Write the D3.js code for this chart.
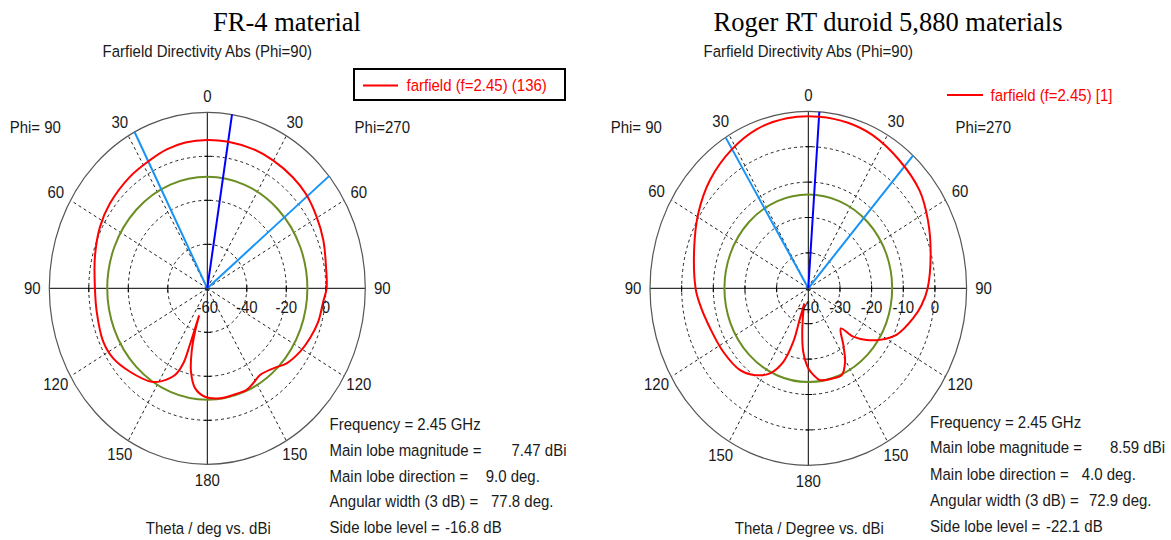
<!DOCTYPE html>
<html>
<head>
<meta charset="utf-8">
<script src="https://cdn.jsdelivr.net/npm/d3@7"></script>
<style>
  body { margin: 0; background: #fff; }
  text { font-family: "Liberation Sans", Arial, sans-serif; font-size: 15px; fill: #1a1a1a; }
  .title { font-family: "Liberation Serif", "Times New Roman", serif; font-size: 26.5px; fill: #000; }
</style>
</head>
<body>
<svg id="chart" width="1171" height="540"></svg>
<script>

var angleLabels = [0, 30, 60, 90, 120, 150, 180];
var spokeAngles = [30, 60, 120, 150];

// FR-4 (left)
var fr4Range = [-60, 20];
var fr4Rings = [-40, -20, 0];
var fr4RadialTicks = [-60, -40, -20, 0];
var fr4Theta = [-161.5, -161.2, -161.0, -160.4, -157.5, -151.3, -146.5, -134.1, -123.8, -114.7, -100.8, -90, -75.8, -62.7, -51.9, -37.6, -26.5, -18, -9.5, 0, 9, 20.1, 29.8, 40.6, 49.4, 59.5, 69.5, 80.7, 90, 95.9, 105.1, 113.6, 121.5, 130.3, 137.4, 145.9, 151.7, 156.7, 164.8, 172.7, 181.4, 187.8, 192.3, 195.4, 197.5, 198.5];
var fr4Gain  = [-47, -41, -33, -23.8, -17.3, -11.9, -9.0, -5.5, -2.7, -2.0, -3.0, -3.1, -1.3, 1.1, 2.6, 4.1, 5.1, 6.4, 7.2, 7.45, 7.47, 7.4, 7.0, 6.5, 5.8, 4.2, 2.7, 0.9, 0.4, -1.0, -1.8, -3.3, -4.9, -7.3, -10.6, -12.4, -11.0, -9.7, -9.8, -9.6, -10.7, -14.2, -21.2, -30.2, -39.3, -47];
var fr4MainDir = 9.0;
var fr4BeamEdges = [-27.4, 50.4];
var fr4SideLobeLevel = -9.33;
var fr4StatLabels = ['Frequency = 2.45 GHz', 'Main lobe magnitude =', 'Main lobe direction =', 'Angular width (3 dB) =', 'Side lobe level ='];
var fr4StatValues = ['', '7.47 dBi', '9.0 deg.', '77.8 deg.', '-16.8 dB'];

// Roger RT duroid 5880 (right)
var rtRange = [-40, 10];
var rtRings = [-30, -20, -10, 0];
var rtRadialTicks = [-40, -30, -20, -10, 0];
var rtTheta = [-163.5, -162.8, -162.6, -159.2, -153.2, -144.7, -137, -123.7, -110, -97.8, -90, -71.9, -58.6, -45.4, -31.5, -20, -8, 4, 15, 25, 38.6, 51.8, 63, 75.6, 90, 97.5, 104.3, 115.3, 122.8, 128.4, 133.9, 137.8, 145.4, 150.8, 156.7, 162.7, 171.9, 176.3, 180, 185.1, 189.5, 196, 196.5];
var rtGain  = [-35.5, -31.1, -24.2, -17.8, -13.1, -10.0, -8.4, -7.7, -7.0, -5.5, -4.4, -2.1, 0.7, 3.6, 6.1, 7.8, 8.5, 8.59, 8.4, 7.8, 6.2, 4.7, 2.4, -0.1, -2.3, -3.9, -5.8, -9.2, -13.1, -16.5, -20.3, -24.7, -20.5, -16.2, -13.3, -13.4, -13.8, -15.5, -17.4, -22, -28.5, -35.1, -35.5];
var rtMainDir = 4.0;
var rtBeamEdges = [-31.5, 41.4];
var rtSideLobeLevel = -13.51;
var rtStatLabels = ['Frequency = 2.45 GHz', 'Main lobe magnitude =', 'Main lobe direction =', 'Angular width (3 dB) =', 'Side lobe level ='];
var rtStatValues = ['', '8.59 dBi', '4.0 deg.', '72.9 deg.', '-22.1 dB'];

// **** Drawing ****

var svg = d3.select('#chart');
svg.append('rect').attr('width', 1171).attr('height', 540).attr('fill', '#fff');

// text slightly stretched vertically like the CST screenshot
function label(g, x, y, s, anchor, fill) {
    return g.append('text')
        .attr('transform', 'translate(' + x + ',' + y + ') scale(1,1.1)')
        .attr('text-anchor', anchor || 'start')
        .style('fill', fill || '#1a1a1a')
        .text(s);
}

function drawPanel(p) {
    var g = svg.append('g');
    var rX = d3.scaleLinear().domain(p.range).range([0, p.rx]);
    var rY = d3.scaleLinear().domain(p.range).range([0, p.ry]);
    var rad = function(a) { return a * Math.PI / 180; };
    var px = function(a, v) { return p.cx + rX(v) * Math.sin(rad(a)); };
    var py = function(a, v) { return p.cy - rY(v) * Math.cos(rad(a)); };
    var top = p.range[1];

    // dashed rings
    g.selectAll('.ring').data(p.rings).join('ellipse')
        .attr('cx', p.cx).attr('cy', p.cy)
        .attr('rx', function(d) { return rX(d); })
        .attr('ry', function(d) { return rY(d); })
        .attr('fill', 'none').attr('stroke', '#222')
        .attr('stroke-width', 1).attr('stroke-dasharray', '3,3');

    // dashed spokes
    var spokes = spokeAngles.concat(spokeAngles.map(function(a) { return -a; }));
    g.selectAll('.spoke').data(spokes).join('line')
        .attr('x1', p.cx).attr('y1', p.cy)
        .attr('x2', function(a) { return px(a, top); })
        .attr('y2', function(a) { return py(a, top); })
        .attr('stroke', '#222').attr('stroke-width', 1).attr('stroke-dasharray', '3,3');

    // solid axes
    g.append('line').attr('x1', px(-90, top)).attr('y1', p.cy).attr('x2', px(90, top)).attr('y2', p.cy)
        .attr('stroke', '#000').attr('stroke-width', 1);
    g.append('line').attr('x1', p.cx).attr('y1', py(0, top)).attr('x2', p.cx).attr('y2', py(180, top))
        .attr('stroke', '#000').attr('stroke-width', 1);

    // outer border
    g.append('ellipse').attr('cx', p.cx).attr('cy', p.cy)
        .attr('rx', rX(top)).attr('ry', rY(top))
        .attr('fill', 'none').attr('stroke', '#555').attr('stroke-width', 1.2);

    // tick marks on the axes
    p.rings.forEach(function(v) {
        [90, -90].forEach(function(a) {
            g.append('line').attr('x1', px(a, v)).attr('x2', px(a, v))
                .attr('y1', p.cy - 3).attr('y2', p.cy + 4).attr('stroke', '#000');
        });
        [0, 180].forEach(function(a) {
            g.append('line').attr('y1', py(a, v)).attr('y2', py(a, v))
                .attr('x1', p.cx - 3).attr('x2', p.cx + 4).attr('stroke', '#000');
        });
    });

    // side lobe reference level
    g.append('ellipse').attr('cx', p.cx).attr('cy', p.cy)
        .attr('rx', rX(p.sideLobe)).attr('ry', rY(p.sideLobe))
        .attr('fill', 'none').attr('stroke', '#6b8e23').attr('stroke-width', 2);

    // 3 dB beam edges and main lobe direction
    g.selectAll('.edge').data(p.edges).join('line')
        .attr('x1', p.cx).attr('y1', p.cy)
        .attr('x2', function(a) { return px(a, top); })
        .attr('y2', function(a) { return py(a, top); })
        .attr('stroke', '#1793f5').attr('stroke-width', 2);
    g.append('line')
        .attr('x1', p.cx).attr('y1', p.cy)
        .attr('x2', px(p.mainDir, top)).attr('y2', py(p.mainDir, top))
        .attr('stroke', '#0000ff').attr('stroke-width', 2);

    // the farfield cut
    var line = d3.line()
        .x(function(d) { return px(d[0], d[1]); })
        .y(function(d) { return py(d[0], d[1]); })
        .curve(d3.curveCatmullRom.alpha(0.5));
    g.append('path').datum(d3.zip(p.theta, p.gain))
        .attr('d', line)
        .attr('fill', 'none').attr('stroke', '#ff0000').attr('stroke-width', 2)
        .attr('stroke-linejoin', 'round');

    // angle labels
    angleLabels.forEach(function(a) {
        var sides = (a === 0 || a === 180) ? [a] : [a, -a];
        sides.forEach(function(s) {
            var lx = p.cx + (p.rx + 17) * Math.sin(rad(s));
            var ly = p.cy - (p.ry + 16) * Math.cos(rad(s));
            label(g, lx, ly + 5.5, String(a), 'middle');
        });
    });

    // radial labels
    p.radialTicks.forEach(function(v) {
        label(g, px(90, v), p.cy + 25, String(v), 'middle');
    });

    label(g, p.cx - 172, 132.5, 'Phi= 90', 'middle');
    label(g, p.cx + 175, 132.5, 'Phi=270', 'middle');
    label(g, p.cx, 56.5, 'Farfield Directivity Abs (Phi=90)', 'middle');
    label(g, p.cx + 1, 533.5, p.xTitle, 'middle');

    svg.append('text').attr('class', 'title')
        .attr('x', p.titleX).attr('y', 31).attr('text-anchor', 'middle')
        .text(p.title);

    // statistics block
    p.statLabels.forEach(function(s, i) {
        label(g, p.statX, p.statY[i], s, 'start');
    });
    p.statValues.forEach(function(s, i) {
        if (!s) return;
        label(g, p.valueX[i], p.statY[i], s, i === 1 ? 'end' : 'start');
    });
}

drawPanel({
    cx: 207.3, cy: 288.3, rx: 158, ry: 176,
    range: fr4Range, rings: fr4Rings, radialTicks: fr4RadialTicks,
    theta: fr4Theta, gain: fr4Gain,
    mainDir: fr4MainDir, edges: fr4BeamEdges, sideLobe: fr4SideLobeLevel,
    title: 'FR-4 material', titleX: 287,
    xTitle: 'Theta / deg vs. dBi',
    statLabels: fr4StatLabels, statValues: fr4StatValues,
    statX: 329.5, statY: [430, 455.7, 481.7, 507.3, 532.7],
    valueX: [0, 566.5, 485.7, 491, 445]
});

drawPanel({
    cx: 808.3, cy: 288.3, rx: 158.3, ry: 177,
    range: rtRange, rings: rtRings, radialTicks: rtRadialTicks,
    theta: rtTheta, gain: rtGain,
    mainDir: rtMainDir, edges: rtBeamEdges, sideLobe: rtSideLobeLevel,
    title: 'Roger RT duroid 5,880 materials', titleX: 888,
    xTitle: 'Theta / Degree vs. dBi',
    statLabels: rtStatLabels, statValues: rtStatValues,
    statX: 930, statY: [428.3, 453.3, 480, 506, 531.7],
    valueX: [0, 1165, 1081.7, 1089, 1046]
});

// legends
var leg = svg.append('g');
leg.append('rect').attr('x', 354).attr('y', 69).attr('width', 211).attr('height', 31)
    .attr('fill', '#fff').attr('stroke', '#000').attr('stroke-width', 2);
leg.append('line').attr('x1', 363).attr('x2', 398).attr('y1', 85.5).attr('y2', 85.5)
    .attr('stroke', '#ff0000').attr('stroke-width', 2);
label(leg, 406.5, 91, 'farfield (f=2.45) (136)', 'start', '#ff0000');

leg.append('line').attr('x1', 947).attr('x2', 983).attr('y1', 95).attr('y2', 95)
    .attr('stroke', '#ff0000').attr('stroke-width', 2);
label(leg, 990.5, 100.5, 'farfield (f=2.45) [1]', 'start', '#ff0000');
</script>
</body>
</html>
